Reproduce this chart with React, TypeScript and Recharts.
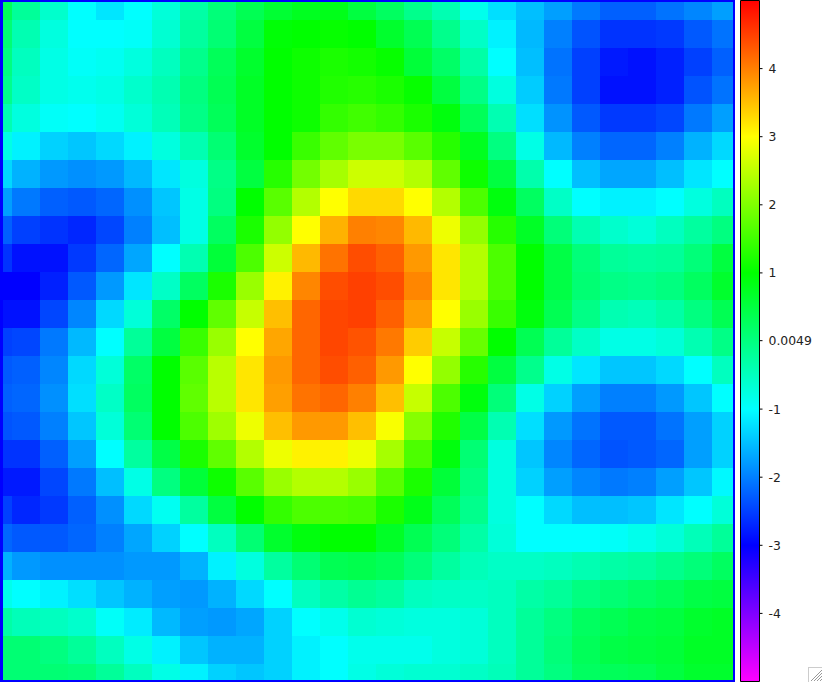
import React from 'react';
import { Bar, BarChart, Cell, ScatterChart, Scatter, XAxis, YAxis } from 'recharts';

// one list per image row, top to bottom, 27 values left to right
const row00 = [0.3, -0.2, -0.6, -1, -1.2, -1, -0.7, -0.3, 0.05, 0.35, 0.6, 0.75, 0.8, 0.5, 0.25, -0.1, -0.4, -0.85, -1.25, -1.5, -1.75, -2.05, -2.25, -2.25, -2.1, -1.95, -1.75];
const row01 = [0.1, -0.4, -0.75, -1, -1, -0.95, -0.65, -0.25, 0.1, 0.5, 0.95, 1, 1.05, 1, 0.65, 0.35, -0.1, -0.55, -1.1, -1.55, -2, -2.35, -2.6, -2.6, -2.55, -2.3, -2.1];
const row02 = [0, -0.5, -0.8, -0.95, -0.9, -0.75, -0.5, -0.1, 0.3, 0.65, 1, 1.1, 1.2, 1.15, 1.05, 0.55, 0.2, -0.3, -1, -1.5, -2.1, -2.5, -2.8, -2.87, -2.75, -2.5, -2.25];
const row03 = [-0.1, -0.55, -0.8, -0.87, -0.8, -0.6, -0.4, 0, 0.35, 0.7, 1, 1.1, 1.25, 1.3, 1.2, 1.05, 0.5, -0.05, -0.75, -1.4, -2.05, -2.5, -2.87, -2.87, -2.75, -2.35, -2.1];
const row04 = [-0.4, -0.75, -0.95, -1, -0.9, -0.7, -0.45, -0.05, 0.3, 0.7, 1, 1.1, 1.4, 1.5, 1.4, 1.2, 0.9, 0.3, -0.4, -1.25, -1.85, -2.3, -2.55, -2.55, -2.45, -2.05, -1.75];
const row05 = [-0.8, -1.1, -1.35, -1.45, -1.3, -1.1, -0.75, -0.4, 0.1, 0.65, 1, 1.45, 1.75, 1.95, 1.95, 1.7, 1.3, 0.75, 0, -0.8, -1.55, -2, -2.2, -2.2, -2, -1.6, -1.3];
const row06 = [-1.3, -1.6, -1.8, -1.87, -1.8, -1.55, -1.2, -0.75, -0.05, 0.5, 1.3, 1.9, 2.3, 2.6, 2.6, 2.4, 1.75, 1.1, 0.5, -0.35, -1, -1.5, -1.7, -1.7, -1.5, -1.2, -1];
const row07 = [-1.75, -2.05, -2.25, -2.3, -2.2, -1.87, -1.45, -0.8, 0, 1, 1.7, 2.4, 3, 3.3, 3.3, 3, 2.4, 1.6, 0.9, 0.25, -0.55, -1, -1.1, -1.1, -1, -0.75, -0.5];
const row08 = [-2.25, -2.5, -2.6, -2.7, -2.45, -2, -1.5, -0.8, 0.25, 1.2, 2.15, 3, 3.6, 4, 3.95, 3.55, 2.87, 2.15, 1.3, 0.7, 0.05, -0.4, -0.6, -0.7, -0.5, -0.25, 0];
const row09 = [-2.6, -2.87, -2.87, -2.55, -2.2, -1.7, -1, -0.4, 0.55, 1.6, 2.6, 3.55, 4.1, 4.4, 4.25, 3.8, 3.2, 2.4, 1.6, 1, 0.45, 0.05, -0.2, -0.25, -0.2, 0.05, 0.5];
const row10 = [-3, -3, -2.75, -2.3, -1.8, -1.2, -0.55, 0.25, 1.2, 2.2, 3.1, 3.95, 4.4, 4.5, 4.4, 3.95, 3.2, 2.4, 1.6, 1, 0.45, 0.1, -0.05, -0.1, 0, 0.25, 0.65];
const row11 = [-2.87, -2.87, -2.45, -1.95, -1.3, -0.7, 0.2, 1, 1.75, 2.55, 3.5, 4.2, 4.45, 4.5, 4.25, 3.75, 3, 2.2, 1.45, 0.9, 0.35, -0.05, -0.4, -0.45, -0.3, 0, 0.35];
const row12 = [-2.5, -2.45, -2.05, -1.55, -1, -0.2, 0.5, 1.45, 2.2, 3, 3.7, 4.2, 4.45, 4.35, 4.05, 3.4, 2.55, 1.8, 1, 0.35, -0.2, -0.55, -0.8, -0.8, -0.7, -0.4, -0.05];
const row13 = [-2.3, -2.25, -1.95, -1.3, -0.7, 0.2, 1, 1.7, 2.45, 3.2, 3.8, 4.2, 4.4, 4.25, 3.8, 3, 2.15, 1.3, 0.5, -0.1, -0.8, -1.2, -1.45, -1.45, -1.3, -1, -0.5];
const row14 = [-2.25, -2.2, -1.87, -1.25, -0.55, 0.25, 1, 1.75, 2.45, 3.2, 3.75, 4.1, 4.2, 4, 3.5, 2.55, 1.6, 0.9, 0.05, -0.8, -1.35, -1.75, -2, -2, -1.8, -1.45, -1];
const row15 = [-2.35, -2.3, -2, -1.45, -0.7, 0.1, 1, 1.6, 2.25, 2.87, 3.5, 3.8, 3.8, 3.5, 2.95, 2.05, 1.25, 0.45, -0.4, -1.25, -1.8, -2.1, -2.3, -2.3, -2.1, -1.75, -1.35];
const row16 = [-2.6, -2.6, -2.25, -1.75, -1, -0.25, 0.45, 1.2, 1.75, 2.4, 2.87, 3.1, 3.1, 2.87, 2.3, 1.6, 0.9, 0.1, -0.75, -1.45, -1.95, -2.2, -2.35, -2.3, -2.2, -1.75, -1.35];
const row17 = [-2.8, -2.8, -2.45, -2.05, -1.5, -0.8, 0, 0.55, 1.1, 1.7, 2.2, 2.4, 2.4, 2.2, 1.7, 1.2, 0.55, 0, -0.75, -1.35, -1.75, -1.95, -2.05, -2, -1.75, -1.45, -1.05];
const row18 = [-2.5, -2.7, -2.55, -2.25, -1.87, -1.3, -0.9, -0.25, 0.5, 1, 1.4, 1.6, 1.6, 1.55, 1.2, 0.8, 0.3, -0.1, -0.75, -1, -1.3, -1.5, -1.5, -1.45, -1.2, -1, -0.7];
const row19 = [-2.2, -2.3, -2.3, -2.2, -2, -1.7, -1.35, -1, -0.5, 0.1, 0.65, 0.9, 1, 1, 0.7, 0.35, 0.05, -0.3, -0.7, -1, -1, -1, -0.95, -0.85, -0.7, -0.45, -0.2];
const row20 = [-1.6, -1.8, -1.87, -1.87, -1.87, -1.8, -1.8, -1.6, -1.1, -0.75, -0.25, 0.1, 0.35, 0.4, 0.3, 0.05, -0.25, -0.45, -0.55, -0.55, -0.5, -0.4, -0.3, -0.25, -0.1, 0.05, 0.25];
const row21 = [-0.85, -1, -1.1, -1.25, -1.45, -1.6, -1.75, -1.8, -1.6, -1.3, -1, -0.5, -0.3, -0.15, -0.25, -0.5, -0.55, -0.55, -0.5, -0.3, -0.2, 0, 0.1, 0.2, 0.3, 0.45, 0.5];
const row22 = [-0.3, -0.45, -0.5, -0.6, -0.95, -1.15, -1.55, -1.75, -1.8, -1.7, -1.35, -1, -0.85, -0.65, -0.7, -0.75, -0.75, -0.7, -0.5, -0.2, 0, 0.25, 0.35, 0.45, 0.5, 0.65, 0.7];
const row23 = [0.1, 0.1, 0, -0.2, -0.5, -0.8, -1.1, -1.45, -1.6, -1.6, -1.35, -1.1, -1, -0.85, -0.85, -0.85, -0.75, -0.7, -0.5, -0.2, 0.05, 0.3, 0.45, 0.5, 0.55, 0.7, 0.7];
const row24 = [0.1, 0.1, 0.1, 0.05, -0.2, -0.5, -0.8, -1.1, -1.35, -1.45, -1.35, -1.1, -1, -0.8, -0.7, -0.65, -0.65, -0.55, -0.45, -0.2, 0, 0.25, 0.3, 0.35, 0.5, 0.65, 0.65];

const rows = [row00, row01, row02, row03, row04, row05, row06, row07, row08, row09, row10, row11, row12, row13, row14, row15, row16, row17, row18, row19, row20, row21, row22, row23, row24];

const scaleTicks = [4, 3, 2, 1, 0.0049, -1, -2, -3, -4];
const scaleStops = ['#ff0000', '#ffff00', '#00ff00', '#00ffff', '#0000ff', '#ff00ff'];

const CELL = 28;

// red at +5 round to magenta at -5
const colorOf = (v: number) => `hsl(${(5 - v) * 30}, 100%, 50%)`;

const cells = rows.flatMap((row, y) => row.map((value, x) => ({ x, y, value })));

const HeatCell = (props: any) => {
  const { cx, cy, payload } = props;
  return <rect x={cx - CELL / 2} y={cy - CELL / 2} width={CELL} height={CELL} fill={colorOf(payload.value)} />;
};

const App = () => {
  document.body.style.margin = '0';
  return (
    <div style={{ position: 'relative', width: 822, height: 682, background: '#fff', overflow: 'hidden' }}>
      <div style={{ position: 'absolute', left: 0, top: 0, background: '#0000ff' }}>
        <ScatterChart width={735} height={682} margin={{ top: 2, right: 2, bottom: 2, left: 3 }}>
          <XAxis type="number" dataKey="x" hide allowDataOverflow domain={[5 / 28, 26.25]} />
          <YAxis type="number" dataKey="y" hide allowDataOverflow reversed domain={[-4 / 28, 674 / 28]} />
          <Scatter data={cells} shape={HeatCell} isAnimationActive={false} />
        </ScatterChart>
      </div>
      <div style={{ position: 'absolute', left: 740, top: 0 }}>
        <BarChart
          width={82}
          height={682}
          data={[{ name: 'scale', range: [-5, 5] }]}
          margin={{ top: 0.5, right: 0, bottom: 0.5, left: 0.5 }}
          barCategoryGap={0}
        >
          <defs>
            <linearGradient id="rainbow" x1="0" y1="0" x2="0" y2="1">
              {scaleStops.map((color, i) => (
                <stop key={color} offset={i / (scaleStops.length - 1)} stopColor={color} />
              ))}
            </linearGradient>
          </defs>
          <XAxis dataKey="name" hide />
          <YAxis
            orientation="right"
            width={62.5}
            domain={[-5, 5]}
            ticks={scaleTicks}
            interval={0}
            axisLine={false}
            tickSize={3}
            tickMargin={6}
            tickLine={{ stroke: '#000' }}
            tick={{ fill: '#222', fontSize: 12.4, fontFamily: 'DejaVu Sans' }}
          />
          <Bar dataKey="range" stroke="#000" strokeWidth={1} isAnimationActive={false}>
            <Cell fill="url(#rainbow)" />
          </Bar>
        </BarChart>
      </div>
      {/* window resize grip */}
      <svg style={{ position: 'absolute', left: 808, top: 667 }} width={14} height={15}>
        <rect x={0.5} y={0.5} width={14} height={15} fill="#fff" stroke="#ccc" />
        <path d="M3 14 L14 3 M6 14 L14 6 M9 14 L14 9 M12 14 L14 12" stroke="#999" strokeWidth={1} />
      </svg>
    </div>
  );
};

export default App;
